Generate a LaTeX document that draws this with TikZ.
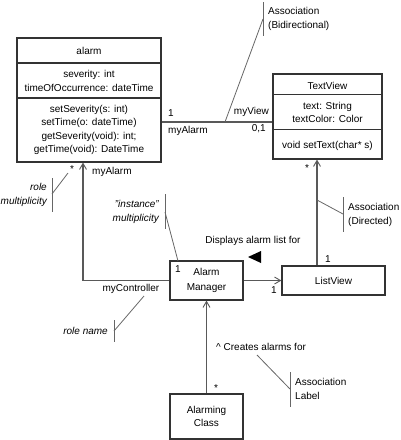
\documentclass[tikz,border=0pt]{standalone}
\usepackage{fontspec}
\setmainfont{Liberation Sans}
\usetikzlibrary{arrows.meta}
\begin{document}
\begin{tikzpicture}[x=1pt,y=-1pt, font=\fontsize{10}{13.5}\selectfont,
  >={Straight Barb[length=6pt,width=7pt,line width=0.9pt]},
  box/.style={draw=black!80, line width=1.2pt, inner sep=0pt},
  divider/.style={draw=black!80, line width=1.2pt},
  assoc/.style={draw=black!65, line width=1.3pt},
  notel/.style={draw=black!60, line width=0.8pt},
  txt/.style={inner sep=0pt, align=center},
  lbl/.style={inner sep=0pt},
  itl/.style={inner sep=0pt, align=right, font=\fontsize{10}{13.5}\selectfont\itshape}]
\useasboundingbox (0,0) rectangle (400,440);

% ---------- class boxes ----------
\node[box, minimum width=144pt, minimum height=124pt] (alarm) at (89,100) {};
\draw[divider] (alarm.west |- 0,63) -- (alarm.east |- 0,63);
\draw[divider] (alarm.west |- 0,98) -- (alarm.east |- 0,98);
\node[txt] (alarmname) at (89,51) {alarm};
\node[txt, font=\fontsize{10}{14}\selectfont] (alarmattr) at (89,80.5) {severity: int\\timeOfOccurrence: dateTime};
\node[txt] (alarmops) at (89,130) {setSeverity(s: int)\\setTime(o: dateTime)\\getSeverity(void): int;\\getTime(void): DateTime};

\node[box, minimum width=109pt, minimum height=85pt] (tv) at (327.5,116.5) {};
\draw[divider] (tv.west |- 0,94.5) -- (tv.east |- 0,94.5);
\draw[divider] (tv.west |- 0,129.5) -- (tv.east |- 0,129.5);
\node[txt] (tvname) at (327.5,85.5) {TextView};
\node[txt, font=\fontsize{10}{13}\selectfont] (tvattr) at (327.5,112.5) {text: String\\textColor: Color};
\node[txt] (tvops) at (327.5,145.5) {void setText(char* s)};

\node[box, minimum width=103pt, minimum height=29pt] (lv) at (333.5,280.5) {ListView};
\node[box, minimum width=73pt, minimum height=39pt, align=center, font=\fontsize{10}{15}\selectfont] (am) at (206.5,280.5) {Alarm\\Manager};
\node[box, minimum width=73pt, minimum height=45pt, align=center, font=\fontsize{10}{13.5}\selectfont] (ac) at (206.5,416.5) {Alarming\\Class};

% ---------- associations ----------
\draw[assoc] (alarm.east |- 0,122) -- (tv.west |- 0,122);
\draw[assoc, <-] (83,0 |- alarm.south) |- (am.west);
\draw[assoc, ->] (am.east) -- (lv.west);
\draw[assoc, ->] (lv.north -| 317,0) -- (tv.south -| 317,0);
\draw[assoc, ->] (ac.north) -- (am.south);

% ---------- end labels ----------
\node[lbl, anchor=west] (m1) at (168,113) {1};
\node[lbl, anchor=west] (r1) at (168,131) {myAlarm};
\node[lbl, anchor=east] (r2) at (269,112) {myView};
\node[lbl, anchor=east] (m2) at (266,129) {0,1};
\node[lbl] (m3) at (72,169) {*};
\node[lbl, anchor=west] (r3) at (92,172) {myAlarm};
\node[lbl] (m4) at (178,269) {1};
\node[lbl] (r4) at (131,289) {myController};
\node[lbl] (m5) at (274,290) {1};
\node[lbl] (m6) at (307,168) {*};
\node[lbl] (m7) at (328,259) {1};
\node[lbl] (m8) at (216,388) {*};

% ---------- association names ----------
\node[lbl] (disp) at (253,241) {Displays alarm list for};
\fill[black] (248,257) -- (261,251) -- (261,263) -- cycle;
\node[lbl, anchor=west] (creates) at (216,347) {\^{} Creates alarms for};

% ---------- notes ----------
% Association (Bidirectional)
\draw[notel] (263,2) coordinate (nb1) -- (263,36) coordinate (nb2);
\node[lbl, anchor=west, align=left, font=\fontsize{10}{14}\selectfont] (nbt) at (268,19) {Association\\(Bidirectional)};
\draw[notel] (263,19) coordinate (nb3) -- (225,122) coordinate (nb4);

% role multiplicity
\draw[notel] (52,178) coordinate (rm1) -- (52,212) coordinate (rm2);
\node[itl, anchor=east] (rmt) at (47,195) {role\\multiplicity};
\draw[notel] (68,173) coordinate (rm3) -- (52,194) coordinate (rm4);

% "instance" multiplicity
\draw[notel] (165,194) coordinate (im1) -- (165,229) coordinate (im2);
\node[itl, anchor=east] (imt) at (159,212) {"instance"\\multiplicity};
\draw[notel] (165,212) coordinate (im3) -- (178,261) coordinate (im4);

% role name
\draw[notel] (114,320) coordinate (rn1) -- (114,342) coordinate (rn2);
\node[itl, anchor=east] (rnt) at (108,331) {role name};
\draw[notel] (114,331) coordinate (rn3) -- (144,296) coordinate (rn4);

% Association (Directed)
\draw[notel] (343,197) coordinate (nd1) -- (343,232) coordinate (nd2);
\node[lbl, anchor=west, align=left, font=\fontsize{10}{13.5}\selectfont] (ndt) at (348,215) {Association\\(Directed)};
\draw[notel] (317,200) coordinate (nd3) -- (343,214) coordinate (nd4);

% Association Label
\draw[notel] (290,372) coordinate (al1) -- (290,407) coordinate (al2);
\node[lbl, anchor=west, align=left, font=\fontsize{10}{13.5}\selectfont] (alt) at (295,389) {Association\\Label};
\draw[notel] (257,355) coordinate (al3) -- (290,389) coordinate (al4);
\end{tikzpicture}
\end{document}
